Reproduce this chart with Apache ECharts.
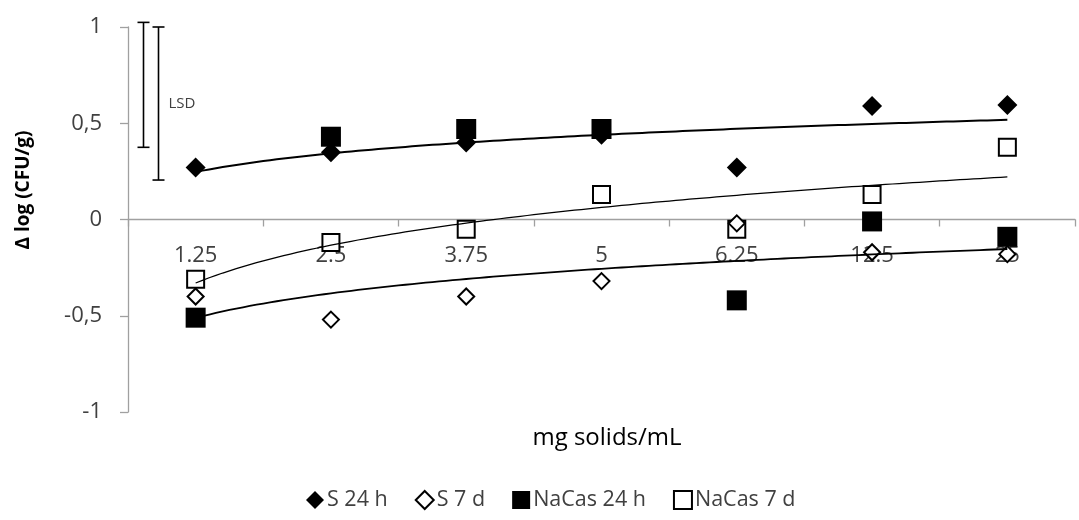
<!DOCTYPE html>
<html>
<head>
<meta charset="utf-8">
<script src="https://cdn.jsdelivr.net/npm/echarts@6/dist/echarts.min.js"></script>
<style>html,body{margin:0;padding:0;background:#fff}#c{width:1079px;height:520px}</style>
</head>
<body>
<div id="c"></div>
<script>
const categories = ['1.25', '2.5', '3.75', '5', '6.25', '12.5', '25'];
const s24h = [0.27, 0.35, 0.40, 0.44, 0.27, 0.59, 0.595];
const s7d = [-0.40, -0.52, -0.40, -0.32, -0.02, -0.17, -0.18];
const nacas24h = [-0.51, 0.43, 0.47, 0.47, -0.42, -0.01, -0.09];
const nacas7d = [-0.31, -0.12, -0.05, 0.13, -0.05, 0.13, 0.375];
const yMin = -1, yMax = 1, yStep = 0.5;
const lsdX = [0.61, 0.72];
const lsdLow = [0.375, 0.205];
const lsdHigh = [1.024, 1.0];
const lsdText = ['', 'LSD'];

// Excel-style logarithmic trendline (x = 1..n)
function logTrend(vals) {
  const n = vals.length;
  const lx = vals.map((v, i) => Math.log(i + 1));
  const mx = lx.reduce((a, b) => a + b, 0) / n;
  const my = vals.reduce((a, b) => a + b, 0) / n;
  let sxy = 0, sxx = 0;
  for (let i = 0; i < n; i++) { sxy += (lx[i] - mx) * (vals[i] - my); sxx += (lx[i] - mx) ** 2; }
  const a = sxy / sxx, b = my - a * mx;
  const pts = [];
  for (let k = 0; k <= 120; k++) { const t = 1 + (n - 1) * k / 120; pts.push([t, a * Math.log(t) + b]); }
  return pts;
}

const txt = '#404040';
const axisCol = '#a0a0a0';
const font = "'Open Sans', 'Noto Sans', sans-serif";
const gridTop = 27, gridBottom = 108, H = 520;
const plotH = H - gridTop - gridBottom;
// shift category axis from bottom of grid to the y = 0 line
const zeroOffset = -plotH * (0 - yMin) / (yMax - yMin);
const chart = echarts.init(document.getElementById('c'));

function trendSeries(vals, w) {
  return {
    type: 'line', xAxisIndex: 1, data: logTrend(vals), showSymbol: false, symbol: 'none',
    lineStyle: { color: '#000', width: w }, z: 6, silent: true, animation: false
  };
}

chart.setOption({
  animation: false,
  textStyle: { fontFamily: font },
  grid: { left: 128, right: 4, top: gridTop, bottom: gridBottom },
  legend: {
    left: 301, top: 484, itemGap: 27, itemWidth: 18, itemHeight: 18,
    textStyle: { fontSize: 21.5, color: txt, fontFamily: font, padding: [0, 0, 0, -2] },
    data: [
      { name: 'S 24 h', icon: 'diamond', itemStyle: { color: '#000', borderWidth: 0, opacity: 1 } },
      { name: 'S 7 d', icon: 'diamond', itemStyle: { color: '#fff', borderColor: '#000', borderWidth: 2, opacity: 1 } },
      { name: 'NaCas 24 h', icon: 'rect', itemStyle: { color: '#000', borderWidth: 0, opacity: 1 } },
      { name: 'NaCas 7 d', icon: 'rect', itemStyle: { color: '#fff', borderColor: '#000', borderWidth: 2, opacity: 1 } }
    ]
  },
  xAxis: [
    {
      type: 'category', data: categories, boundaryGap: true, position: 'bottom', offset: zeroOffset,
      axisLine: { onZero: false, lineStyle: { color: axisCol, width: 1.3 } },
      axisTick: { show: true, length: 7, lineStyle: { color: axisCol, width: 1.3 } },
      axisLabel: { color: txt, fontSize: 22, margin: 25, fontFamily: font },
      splitLine: { show: false }
    },
    { type: 'value', min: 0.5, max: 7.5, show: false }
  ],
  yAxis: {
    type: 'value', min: yMin, max: yMax, interval: yStep,
    axisLine: { show: true, onZero: false, lineStyle: { color: axisCol, width: 1.3 } },
    axisTick: { show: true, length: 8, lineStyle: { color: axisCol, width: 1.3 } },
    axisLabel: { color: txt, fontSize: 22, margin: 26, fontFamily: font,
      formatter: v => String(v).replace('.', ',') },
    splitLine: { show: false }
  },
  graphic: [
    { type: 'text', x: 24, y: 190, rotation: Math.PI / 2,
      style: { text: 'Δ log (CFU/g)', fontSize: 19, fontWeight: 'bold', fill: '#000', fontFamily: font,
        textAlign: 'center', textVerticalAlign: 'middle' } },
    { type: 'text', x: 607, y: 438,
      style: { text: 'mg solids/mL', fontSize: 24, fill: '#000', fontFamily: font,
        textAlign: 'center', textVerticalAlign: 'middle' } }
  ],
  series: [
    { name: 'S 24 h', type: 'scatter', data: s24h, symbol: 'diamond', symbolSize: 20,
      itemStyle: { color: '#000', opacity: 1 }, z: 3 },
    { name: 'S 7 d', type: 'scatter', data: s7d, symbol: 'diamond', symbolSize: 16,
      itemStyle: { color: '#fff', borderColor: '#000', borderWidth: 2, opacity: 1 }, z: 4 },
    { name: 'NaCas 24 h', type: 'scatter', data: nacas24h, symbol: 'rect', symbolSize: 20,
      itemStyle: { color: '#000', opacity: 1 }, z: 3 },
    { name: 'NaCas 7 d', type: 'scatter', data: nacas7d, symbol: 'rect', symbolSize: 17,
      itemStyle: { color: '#fff', borderColor: '#000', borderWidth: 2, opacity: 1 }, z: 2 },
    trendSeries(s24h, 2),
    trendSeries(s7d, 1.8),
    trendSeries(nacas7d, 1.25),
    {
      type: 'custom', xAxisIndex: 1, z: 6, silent: true,
      data: lsdX.map((x, i) => [x, lsdLow[i], lsdHigh[i]]),
      renderItem: function (params, api) {
        const top = api.coord([api.value(0), api.value(2)]);
        const bot = api.coord([api.value(0), api.value(1)]);
        const x = Math.round(top[0]) + 0.5, cw = 6;
        const st = { stroke: '#000', lineWidth: 1.6 };
        const children = [
          { type: 'line', shape: { x1: x, y1: top[1], x2: x, y2: bot[1] }, style: st },
          { type: 'line', shape: { x1: x - cw, y1: top[1], x2: x + cw, y2: top[1] }, style: st },
          { type: 'line', shape: { x1: x - cw, y1: bot[1], x2: x + cw, y2: bot[1] }, style: st }
        ];
        const t = lsdText[params.dataIndex];
        if (t) children.push({ type: 'text', x: x + 10, y: (top[1] + bot[1]) / 2,
          style: { text: t, fontSize: 15, fill: txt, fontFamily: font, textVerticalAlign: 'middle' } });
        return { type: 'group', children: children };
      }
    }
  ]
});
</script>
</body>
</html>
